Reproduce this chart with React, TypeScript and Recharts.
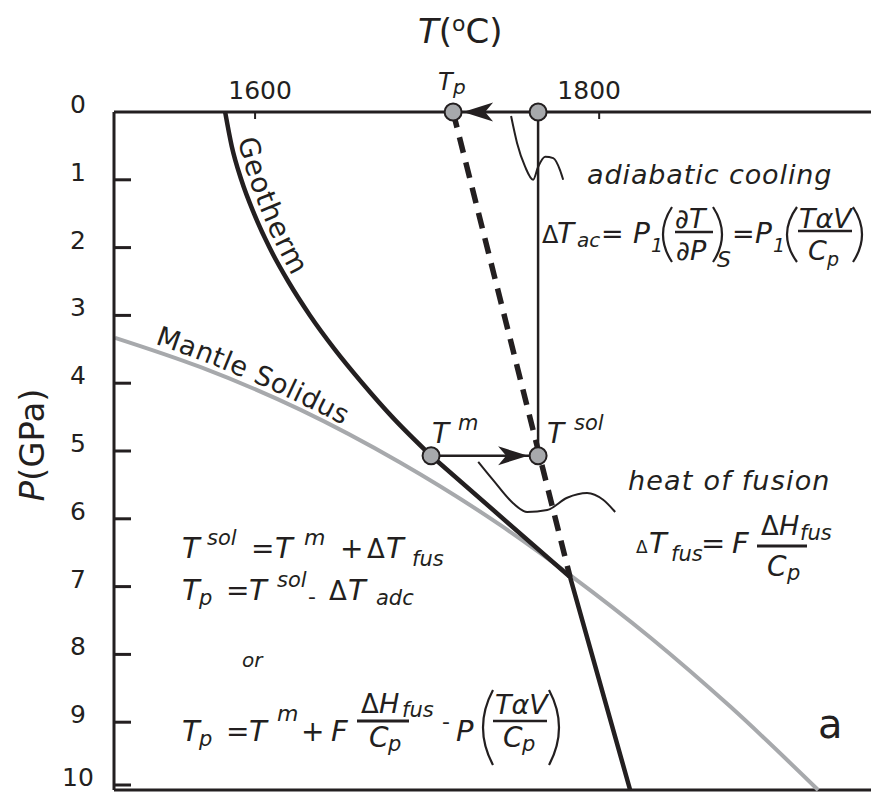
import React from 'react';
import { ComposedChart, Line, Scatter, XAxis, YAxis, ReferenceLine, Customized } from 'recharts';

const INK = '#231f20';
const GREY = '#a7a9ac';
const FONT = '"DejaVu Sans", Verdana, sans-serif';

// axis ticks
const tempTicks = [1600, 1800];
const pressureTicks = [0, 1, 2, 3, 4, 5, 6, 7, 8, 9, 10];

// conductive geotherm above the melting point (T in °C, P in GPa)
const geothermUpper = [
  { T: 1582.6, P: 0 },
  { T: 1586.4, P: 0.5 },
  { T: 1592.0, P: 1.0 },
  { T: 1599.4, P: 1.5 },
  { T: 1608.4, P: 2.0 },
  { T: 1619.3, P: 2.5 },
  { T: 1631.9, P: 3.0 },
  { T: 1646.3, P: 3.5 },
  { T: 1662.4, P: 4.0 },
  { T: 1679.8, P: 4.5 },
  { T: 1702.3, P: 5.07 },
];
// straight part of the geotherm below T^m, with its kink on the solidus
const geothermLower = [
  { T: 1702.3, P: 5.07 },
  { T: 1783.1, P: 6.86 },
  { T: 1818.0, P: 10 },
];
// mantle solidus
const solidus = [
  { T: 1518.6, P: 3.33 },
  { T: 1568.0, P: 3.76 },
  { T: 1626.2, P: 4.39 },
  { T: 1684.3, P: 5.17 },
  { T: 1742.4, P: 6.09 },
  { T: 1783.1, P: 6.83 },
  { T: 1829.7, P: 7.75 },
  { T: 1876.2, P: 8.77 },
  { T: 1927.3, P: 10.0 },
];
// adiabat projected from the kink up to the potential temperature
const adiabat = [
  { T: 1715.1, P: 0 },
  { T: 1783.1, P: 6.86 },
];
// isothermal ascent of the solidus melt
const meltColumn = [
  { T: 1764.5, P: 0 },
  { T: 1764.5, P: 5.07 },
];
// heating step T^m -> T^sol
const fusionStep = [
  { T: 1702.3, P: 5.07 },
  { T: 1764.5, P: 5.07 },
];
// curly leader lines for the two annotations
const coolingCurl = [
  { T: 1748.8, P: 0.06 },
  { T: 1752.3, P: 0.46 },
  { T: 1757.0, P: 0.81 },
  { T: 1761.6, P: 1.0 },
  { T: 1764.5, P: 0.81 },
  { T: 1768.6, P: 0.66 },
  { T: 1773.3, P: 0.68 },
  { T: 1777.3, P: 0.86 },
  { T: 1779.1, P: 1.0 },
];
const fusionCurl = [
  { T: 1729.7, P: 5.16 },
  { T: 1738.4, P: 5.43 },
  { T: 1750.0, P: 5.77 },
  { T: 1758.1, P: 5.9 },
  { T: 1769.8, P: 5.87 },
  { T: 1781.4, P: 5.69 },
  { T: 1793.0, P: 5.62 },
  { T: 1802.3, P: 5.72 },
  { T: 1809.3, P: 5.9 },
];
// state points
const statePoints = [
  { T: 1715.1, P: 0, name: 'Tp' },
  { T: 1764.5, P: 0, name: 'T0' },
  { T: 1702.3, P: 5.07, name: 'Tm' },
  { T: 1764.5, P: 5.07, name: 'Tsol' },
];
// arrow heads (tip position, direction)
const arrowTips = [
  { T: 1720.9, P: 0, dir: -1 },
  { T: 1758.7, P: 5.07, dir: 1 },
];

const Tx = ({ x, y, s, i, children, anchor, ls }: any) => (
  <text
    x={x}
    y={y}
    fontSize={s}
    fontStyle={i ? 'italic' : 'normal'}
    fill={INK}
    fontFamily={FONT}
    textAnchor={anchor || 'start'}
    letterSpacing={ls || 0}
  >
    {children}
  </text>
);

const Bar = ({ x1, x2, y, w = 2.5 }: any) => (
  <line x1={x1} x2={x2} y1={y} y2={y} stroke={INK} strokeWidth={w} />
);

// round bracket drawn as a quadratic arc between its two ends
const Paren = ({ xEnd, xMid, top, bottom }: any) => {
  const c = 2 * xMid - xEnd;
  return (
    <path
      d={`M${xEnd},${top} Q${c},${(top + bottom) / 2} ${xEnd},${bottom}`}
      fill="none"
      stroke={INK}
      strokeWidth={2.2}
    />
  );
};

const PTick = (props: any) => {
  const { x, y, payload } = props;
  return (
    <g>
      {payload.value !== 0 && (
        <line x1={x} x2={x + 17} y1={y} y2={y} stroke={INK} strokeWidth={3} />
      )}
      <text x={x - 36} y={y + 1} textAnchor="middle" fontSize={25} fill={INK} fontFamily={FONT}>
        {payload.value}
      </text>
    </g>
  );
};

const tempLabelNudge: Record<number, number> = { 1600: 5, 1800: -10 };
const TTick = (props: any) => {
  const { x, y, payload } = props;
  return (
    <g>
      <line x1={x} x2={x} y1={y} y2={y + 7} stroke={INK} strokeWidth={2} />
      <text
        x={x + (tempLabelNudge[payload.value] || 0)}
        y={y - 13}
        textAnchor="middle"
        fontSize={25}
        fill={INK}
        fontFamily={FONT}
      >
        {payload.value}
      </text>
    </g>
  );
};

// label layout for each state point, relative to the marker
const pointLabels: Record<string, { main: [number, number]; size: number; extra: { text: string; at: [number, number]; size: number } }> = {
  Tp: { main: [-15, -22], size: 24, extra: { text: 'p', at: [0, -18], size: 20 } },
  Tm: { main: [1, -13], size: 28, extra: { text: 'm', at: [27, -26], size: 21 } },
  Tsol: { main: [9, -13], size: 28, extra: { text: 'sol', at: [36, -26], size: 21 } },
};

const StateMarker = (props: any) => {
  const { cx, cy, payload } = props;
  const lab = pointLabels[payload.name];
  return (
    <g>
      <circle cx={cx} cy={cy} r={8.5} fill={GREY} stroke={INK} strokeWidth={2} />
      {lab && (
        <>
          <Tx x={cx + lab.main[0]} y={cy + lab.main[1]} s={lab.size} i>
            T
          </Tx>
          <Tx x={cx + lab.extra.at[0]} y={cy + lab.extra.at[1]} s={lab.extra.size} i>
            {lab.extra.text}
          </Tx>
        </>
      )}
    </g>
  );
};

const ArrowHead = (props: any) => {
  const { cx, cy, payload } = props;
  const d = -payload.dir;
  return (
    <path
      d={`M${cx},${cy} L${cx + d * 30},${cy - 9.5} L${cx + d * 22},${cy} L${cx + d * 30},${cy + 9.5} Z`}
      fill={INK}
    />
  );
};

const Annotations = () => (
  <g>
    <defs>
      <path id="geothermLabelPath" d="M238,140 Q254,210 300,290" fill="none" />
      <path id="solidusLabelPath" d="M155,344 Q253.5,377 360,434" fill="none" />
    </defs>

    {/* axis titles */}
    <text x={418} y={43} fontSize={34} fill={INK} fontFamily={FONT}>
      <tspan fontStyle="italic">T</tspan>
      <tspan>(</tspan>
      <tspan fontSize={22} dy={-12}>o</tspan>
      <tspan dy={12}>C)</tspan>
    </text>
    <text transform="translate(44,445) rotate(-90)" textAnchor="middle" fontSize={34} fill={INK} fontFamily={FONT}>
      <tspan fontStyle="italic">P</tspan>
      <tspan>(GPa)</tspan>
    </text>

    {/* curve names, set along the curves */}
    <text fontSize={28} fill={INK} fontFamily={FONT} letterSpacing={1}>
      <textPath href="#geothermLabelPath">Geotherm</textPath>
    </text>
    <text fontSize={27} fill={INK} fontFamily={FONT} letterSpacing={0.6}>
      <textPath href="#solidusLabelPath">Mantle Solidus</textPath>
    </text>

    {/* adiabatic cooling */}
    <Tx x={587} y={184} s={27} i ls={0.9}>adiabatic cooling</Tx>
    <Tx x={542} y={243} s={24}>Δ</Tx>
    <Tx x={557} y={243} s={28} i>T</Tx>
    <Tx x={577} y={247} s={20} i>ac</Tx>
    <Tx x={601} y={243} s={27}>=</Tx>
    <Tx x={633} y={243} s={28} i>P</Tx>
    <Tx x={651} y={252} s={19} i>1</Tx>
    <Paren xEnd={672} xMid={663} top={207} bottom={262} />
    <Tx x={675} y={228} s={27} i>∂T</Tx>
    <Bar x1={675} x2={713} y={232} />
    <Tx x={676} y={260} s={27} i>∂P</Tx>
    <Paren xEnd={713} xMid={722} top={207} bottom={262} />
    <Tx x={717} y={267} s={22} i>S</Tx>
    <Tx x={732} y={243} s={27}>=</Tx>
    <Tx x={755} y={243} s={28} i>P</Tx>
    <Tx x={773} y={252} s={19} i>1</Tx>
    <Paren xEnd={797} xMid={787} top={207} bottom={262} />
    <Tx x={799} y={228} s={27} i>TαV</Tx>
    <Bar x1={798} x2={852} y={231} />
    <Tx x={808} y={260} s={27} i>C</Tx>
    <Tx x={827} y={266} s={19} i>p</Tx>
    <Paren xEnd={853} xMid={862} top={207} bottom={262} />

    {/* heat of fusion */}
    <Tx x={628} y={490} s={27} i ls={1.2}>heat of fusion</Tx>
    <Tx x={636} y={553} s={17}>Δ</Tx>
    <Tx x={649} y={553} s={29} i>T</Tx>
    <Tx x={671} y={561} s={21} i>fus</Tx>
    <Tx x={701} y={553} s={29}>=</Tx>
    <Tx x={732} y={553} s={29} i>F</Tx>
    <Tx x={761} y={535} s={26}>Δ</Tx>
    <Tx x={779} y={535} s={27} i>H</Tx>
    <Tx x={800} y={540} s={21} i>fus</Tx>
    <Bar x1={757} x2={807} y={546} w={3} />
    <Tx x={767} y={576} s={28} i>C</Tx>
    <Tx x={787} y={580} s={21} i>p</Tx>

    {/* relations */}
    <Tx x={182} y={558} s={29} i>T</Tx>
    <Tx x={207} y={545} s={21} i>sol</Tx>
    <Tx x={251} y={558} s={28}>=</Tx>
    <Tx x={275} y={558} s={29} i>T</Tx>
    <Tx x={304} y={545} s={22} i>m</Tx>
    <Tx x={340} y={558} s={28}>+</Tx>
    <Tx x={367} y={558} s={26}>Δ</Tx>
    <Tx x={386} y={558} s={29} i>T</Tx>
    <Tx x={412} y={566} s={21} i>fus</Tx>

    <Tx x={182} y={600} s={29} i>T</Tx>
    <Tx x={199} y={605} s={21} i>p</Tx>
    <Tx x={226} y={600} s={28}>=</Tx>
    <Tx x={249} y={600} s={29} i>T</Tx>
    <Tx x={277} y={587} s={21} i>sol</Tx>
    <Tx x={308} y={604} s={22}>-</Tx>
    <Tx x={329} y={600} s={26}>Δ</Tx>
    <Tx x={348} y={600} s={29} i>T</Tx>
    <Tx x={376} y={605} s={21} i>adc</Tx>

    <Tx x={242} y={667} s={20} i>or</Tx>

    <Tx x={182} y={741} s={29} i>T</Tx>
    <Tx x={199} y={746} s={21} i>p</Tx>
    <Tx x={226} y={741} s={28}>=</Tx>
    <Tx x={249} y={741} s={29} i>T</Tx>
    <Tx x={277} y={721} s={22} i>m</Tx>
    <Tx x={301} y={741} s={28}>+</Tx>
    <Tx x={331} y={741} s={29} i>F</Tx>
    <Tx x={361} y={713} s={26}>Δ</Tx>
    <Tx x={379} y={713} s={27} i>H</Tx>
    <Tx x={402} y={717} s={21} i>fus</Tx>
    <Bar x1={357} x2={409} y={721} w={3} />
    <Tx x={369} y={747} s={28} i>C</Tx>
    <Tx x={388} y={751} s={21} i>p</Tx>
    <Tx x={442} y={729} s={22}>-</Tx>
    <Tx x={456} y={741} s={29} i>P</Tx>
    <Paren xEnd={493} xMid={483} top={690} bottom={765} />
    <Tx x={495} y={714} s={27} i>TαV</Tx>
    <Bar x1={493} x2={547} y={721} />
    <Tx x={503} y={747} s={28} i>C</Tx>
    <Tx x={522} y={751} s={21} i>p</Tx>
    <Paren xEnd={549} xMid={559} top={690} bottom={765} />

    {/* panel letter */}
    <Tx x={818} y={738} s={40}>a</Tx>
  </g>
);

export default function App() {
  return (
    <div style={{ position: 'absolute', left: 0, top: 0, width: 871, height: 794, background: '#fff' }}>
      <ComposedChart width={871} height={794} margin={{ top: 0, left: 0, right: 0, bottom: 4 }}>
        <XAxis
          type="number"
          dataKey="T"
          orientation="top"
          height={112}
          domain={[1518, 1958]}
          ticks={tempTicks}
          tick={<TTick />}
          tickLine={false}
          tickSize={0}
          tickMargin={0}
          axisLine={{ stroke: INK, strokeWidth: 3 }}
        />
        <YAxis
          type="number"
          dataKey="P"
          width={114}
          reversed
          domain={[0, 10]}
          ticks={pressureTicks}
          tick={<PTick />}
          tickLine={false}
          tickSize={0}
          tickMargin={0}
          axisLine={{ stroke: INK, strokeWidth: 3 }}
        />
        <ReferenceLine y={10} stroke={INK} strokeWidth={3} />

        <Line data={solidus} dataKey="P" type="monotone" stroke={GREY} strokeWidth={4} dot={false} activeDot={false} isAnimationActive={false} />
        <Line data={geothermUpper} dataKey="P" type="monotone" stroke={INK} strokeWidth={4.5} dot={false} activeDot={false} isAnimationActive={false} />
        <Line data={geothermLower} dataKey="P" type="linear" stroke={INK} strokeWidth={4.5} dot={false} activeDot={false} isAnimationActive={false} strokeLinejoin="miter" />
        <Line data={adiabat} dataKey="P" type="linear" stroke={INK} strokeWidth={5.5} strokeDasharray="16 10" dot={false} activeDot={false} isAnimationActive={false} />
        <Line data={meltColumn} dataKey="P" type="linear" stroke={INK} strokeWidth={2.5} dot={false} activeDot={false} isAnimationActive={false} />
        <Line data={fusionStep} dataKey="P" type="linear" stroke={INK} strokeWidth={2.5} dot={false} activeDot={false} isAnimationActive={false} />
        <Line data={coolingCurl} dataKey="P" type="monotone" stroke={INK} strokeWidth={2} dot={false} activeDot={false} isAnimationActive={false} />
        <Line data={fusionCurl} dataKey="P" type="monotone" stroke={INK} strokeWidth={2} dot={false} activeDot={false} isAnimationActive={false} />

        <Scatter data={arrowTips} dataKey="P" shape={<ArrowHead />} isAnimationActive={false} />
        <Scatter data={statePoints} dataKey="P" shape={<StateMarker />} isAnimationActive={false} />

        <Customized component={<Annotations />} />
      </ComposedChart>
    </div>
  );
}
